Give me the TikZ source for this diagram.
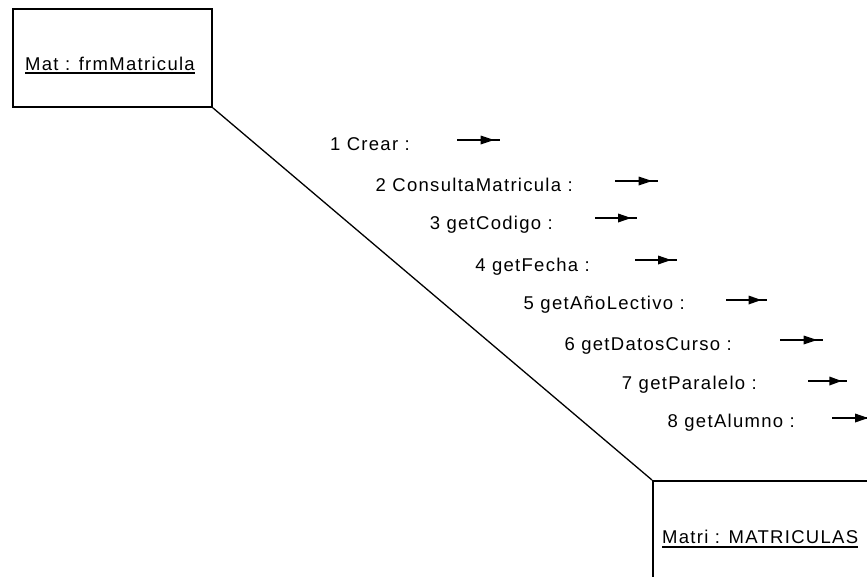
\documentclass[tikz,border=0pt]{standalone}
\usepackage{fontspec}
\setmainfont[LetterSpace=7]{Liberation Sans}
\usetikzlibrary{calc}
\begin{document}
\begin{tikzpicture}[x=1pt,y=-1pt,
  objbox/.style={draw=black,line width=1.8pt,fill=white},
  msg/.style={anchor=base east,inner sep=0pt,font=\fontsize{18.5}{20}\selectfont},
  title/.style={anchor=base west,inner sep=0pt,font=\fontsize{18.5}{20}\selectfont},
  link/.style={draw=black,line width=1.3pt},
  arrline/.style={draw=black,line width=1.4pt}]
\useasboundingbox (0,0) rectangle (867,576);
\clip (0,0) rectangle (867,576);
% objects
\node[objbox,anchor=north west,minimum width=199pt,minimum height=98pt,inner sep=0pt] (obj1) at (12,8) {};
\node[objbox,anchor=north west,minimum width=260pt,minimum height=140pt,inner sep=0pt] (obj2) at (652,480) {};
\draw[link] (obj1.south east) -- (obj2.north west);
\node[title] (t1) at (25,70) {Mat : frmMatricula};
\draw[line width=1.2pt] ([yshift=-3pt]t1.base west) -- ([yshift=-3pt]t1.base east);
\node[title] (t2) at (662,543) {Matri : MATRICULAS};
\draw[line width=1.2pt] ([yshift=-4pt]t2.base west) -- ([yshift=-4pt]t2.base east);
% messages
\newcommand{\msgarrow}[4]{%
  \coordinate (#1s) at (#2,#4);
  \coordinate (#1e) at (#3,#4);
  \draw[arrline] (#1s) -- (#1e);
  \fill[black] ($(#1s)!0.55!(#1e)+(0,-4.5)$) -- ($(#1s)!0.55!(#1e)+(0,4.5)$) -- ($(#1s)!0.86!(#1e)$) -- cycle;
}
\node[msg] (m1) at (410,150) {1 Crear :};
\node[msg] (m2) at (573,191) {2 ConsultaMatricula :};
\node[msg] (m3) at (553,229) {3 getCodigo :};
\node[msg] (m4) at (590,271) {4 getFecha :};
\node[msg] (m5) at (685,309) {5 getAñoLectivo :};
\node[msg] (m6) at (732,350) {6 getDatosCurso :};
\node[msg] (m7) at (757,389) {7 getParalelo :};
\node[msg] (m8) at (795,427) {8 getAlumno :};
\msgarrow{a1}{457}{500}{140}
\msgarrow{a2}{615}{658}{181}
\msgarrow{a3}{595}{637}{218}
\msgarrow{a4}{635}{677}{260}
\msgarrow{a5}{726}{767}{300}
\msgarrow{a6}{780}{823}{340}
\msgarrow{a7}{808}{847}{381}
\msgarrow{a8}{832}{874}{418}
\end{tikzpicture}
\end{document}
